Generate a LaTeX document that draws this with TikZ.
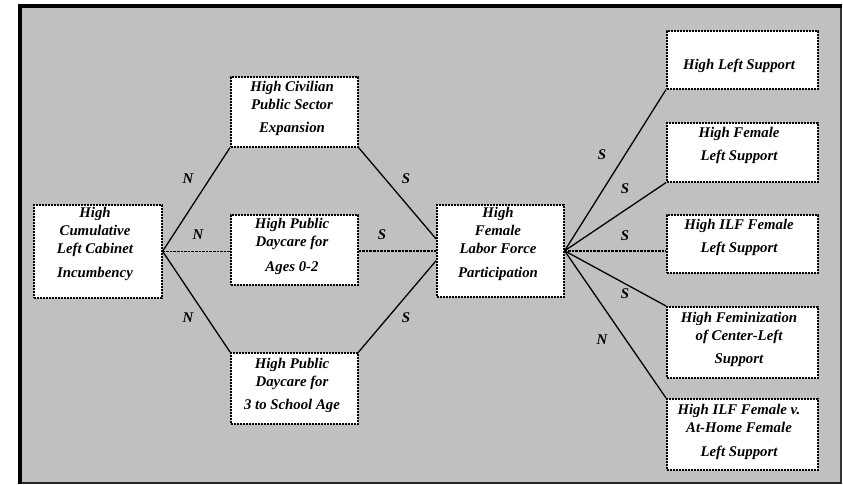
\documentclass[tikz,border=0pt]{standalone}
\usepackage{fontspec}
\setmainfont{Liberation Serif}
\definecolor{bggray}{RGB}{192,192,192}
\begin{document}
\begin{tikzpicture}[x=1bp,y=-1bp,
  box/.style={draw=black, fill=white, line width=1.6bp, dash pattern=on 2.2bp off 0.8bp, inner sep=0pt, anchor=north west},
  txt/.style={font=\fontsize{14.8bp}{18bp}\selectfont\bfseries\itshape, align=center, inner sep=0pt},
  lbl/.style={font=\fontsize{14.8bp}{18bp}\selectfont\bfseries\itshape, inner sep=0pt},
  link/.style={line width=1.3bp, draw=black},
  dlink/.style={line width=1.5bp, draw=black, dash pattern=on 2.6bp off 1bp}
]
\useasboundingbox (0,0) rectangle (843,485);
% frame
\fill[bggray] (20,6) rectangle (841,483);
\draw[line width=1.5bp, black!80] (841,6) -- (841,483);
\draw[line width=2.2bp, black!85] (18,483) -- (842,483);
\draw[line width=4bp, black, line join=miter] (20,484) -- (20,6) -- (842,6);

% boxes
\node[box, minimum width=128bp, minimum height=93bp] (L) at (33,204) {};
\node[box, minimum width=127bp, minimum height=70bp] (Civ) at (230,76) {};
\node[box, minimum width=127bp, minimum height=70bp] (D02) at (230,214) {};
\node[box, minimum width=127bp, minimum height=71bp] (D3) at (230,352) {};
\node[box, minimum width=127bp, minimum height=92bp] (LFP) at (436,204) {};
\node[box, minimum width=151bp, minimum height=58bp] (HLS) at (666,30) {};
\node[box, minimum width=151bp, minimum height=59bp] (HF) at (666,122) {};
\node[box, minimum width=151bp, minimum height=58bp] (ILF) at (666,214) {};
\node[box, minimum width=151bp, minimum height=71bp] (Fem) at (666,306) {};
\node[box, minimum width=151bp, minimum height=71bp] (ILFv) at (666,398) {};

% texts
\node[txt] (tL) at (95,243.5) {High\\Cumulative\\Left Cabinet\\[6bp]Incumbency};
\node[txt] (tCiv) at (292,108) {High Civilian\\Public Sector\\[5bp]Expansion};
\node[txt] (tD02) at (292,246.5) {High Public\\Daycare for\\[7bp]Ages 0-2};
\node[txt] (tD3) at (292,385.5) {High Public\\Daycare for\\[5bp]3 to School Age};
\node[txt] (tLFP) at (498,243.5) {High\\Female\\Labor Force\\[6bp]Participation};
\node[txt] (tHLS) at (739,66) {High Left Support};
\node[txt] (tHF) at (739,145.5) {High Female\\[5bp]Left Support};
\node[txt] (tILF) at (739,237.5) {High ILF Female\\[5bp]Left Support};
\node[txt] (tFem) at (739,339) {High Feminization\\of Center-Left\\[5bp]Support};
\node[txt] (tILFv) at (739,431.5) {High ILF Female v.\\At-Home Female\\[6bp]Left Support};

% connectors
\draw[link] (L.east) -- (Civ.south west);
\draw[dlink] (L.east) -- (L.east -| D02.west);
\draw[link] (L.east) -- (D3.north west);
\draw[link] (Civ.south east) -- ([yshift=12bp]LFP.west);
\draw[dlink] (LFP.west -| D02.east) -- (LFP.west);
\draw[link] (D3.north east) -- ([yshift=-10bp]LFP.west);
\draw[link] (LFP.east) -- (HLS.south west);
\draw[link] (LFP.east) -- (HF.south west);
\draw[dlink] (LFP.east) -- (LFP.east -| ILF.west);
\draw[link] (LFP.east) -- (Fem.north west);
\draw[link] (LFP.east) -- (ILFv.north west);

% labels
\node[lbl] (n1) at (188,179) {N};
\node[lbl] (n2) at (198,235) {N};
\node[lbl] (n3) at (188,318) {N};
\node[lbl] (s1) at (406,179) {S};
\node[lbl] (s2) at (382,235) {S};
\node[lbl] (s3) at (406,318) {S};
\node[lbl] (s4) at (602,155) {S};
\node[lbl] (s5) at (625,189) {S};
\node[lbl] (s6) at (625,236) {S};
\node[lbl] (s7) at (625,294) {S};
\node[lbl] (n4) at (602,340) {N};
\end{tikzpicture}
\end{document}
